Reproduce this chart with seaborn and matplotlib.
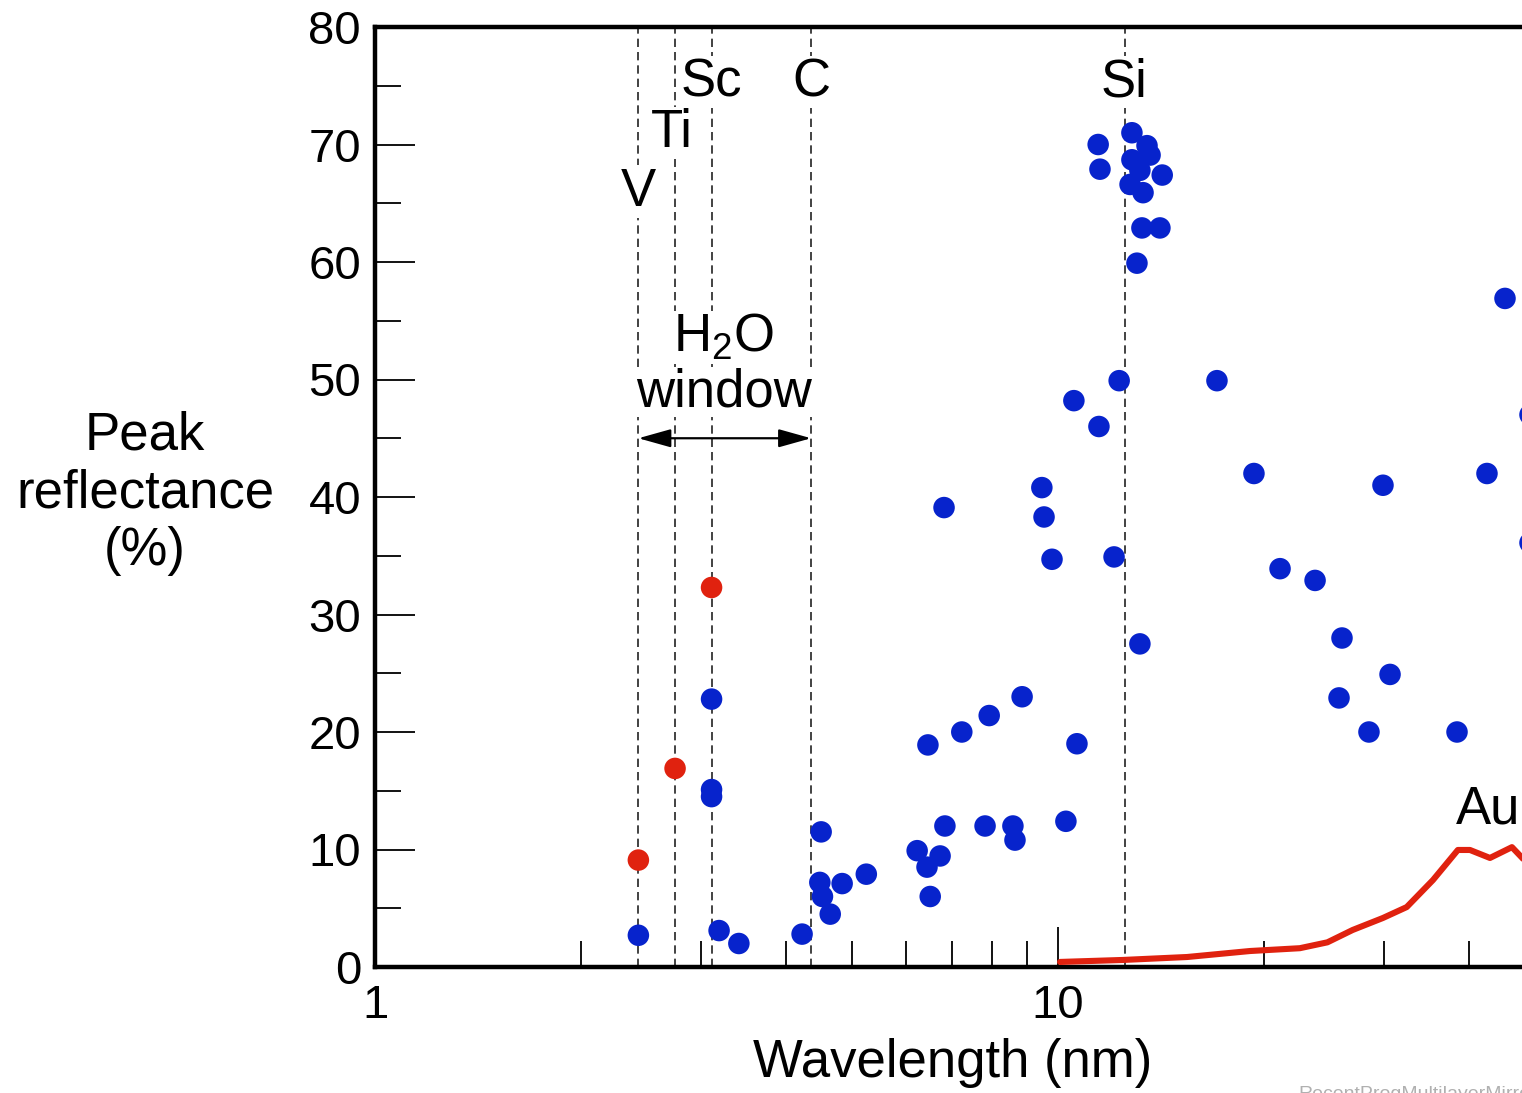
import matplotlib
matplotlib.use("Agg")
import matplotlib.pyplot as plt
from matplotlib.ticker import LogLocator, FixedLocator, MultipleLocator, NullFormatter
import numpy as np
import pandas as pd
import seaborn as sns

# Multilayer mirror peak reflectance versus wavelength
blue_wl = [2.43, 3.19, 3.41, 3.11, 3.11, 3.11, 4.22, 4.50, 4.48, 4.52, 4.64, 4.83, 5.24,
           6.22, 6.81, 9.47, 9.54, 9.80, 12.08, 13.18, 8.86, 7.93, 7.23, 6.45, 10.66,
           6.83, 7.82, 8.59, 8.65, 10.27, 6.72, 6.43, 6.50,
           10.55, 11.48, 12.29, 17.09,
           12.83, 13.50, 13.64, 12.83, 13.18, 14.21, 12.75, 13.32, 13.27, 14.10, 13.05,
           11.45, 11.52,
           19.36, 29.91, 42.47, 21.14, 23.79, 26.05, 30.63, 25.79, 28.53, 38.39, 45.13,
           49.1, 49.1]
blue_refl = [2.7, 3.1, 2.0, 22.8, 15.1, 14.5, 2.8, 11.5, 7.2, 6.0, 4.5, 7.1, 7.9,
             9.9, 39.1, 40.8, 38.3, 34.7, 34.9, 27.5, 23.0, 21.4, 20.0, 18.9, 19.0,
             12.0, 12.0, 12.0, 10.8, 12.4, 9.45, 8.5, 6.0,
             48.2, 46.0, 49.9, 49.9,
             71.0, 69.9, 69.1, 68.7, 67.8, 67.4, 66.6, 65.9, 62.9, 62.9, 59.9,
             70.0, 67.9,
             42.0, 41.0, 42.0, 33.9, 32.9, 28.0, 24.9, 22.9, 20.0, 20.0, 56.9,
             47.0, 36.1]

# Water-window results
red_wl = [2.43, 2.75, 3.11]
red_refl = [9.1, 16.9, 32.3]

# Single-surface Au reflectance curve
au_wl = [10.07, 12.45, 15.45, 19.1, 22.6, 24.8, 27.0, 29.9, 32.4, 35.4, 38.5, 40.1, 42.9, 46.2, 47.8, 49.0]
au_refl = [0.43, 0.6, 0.85, 1.36, 1.6, 2.1, 3.15, 4.17, 5.1, 7.4, 9.96, 9.96, 9.28, 10.2, 9.3, 8.6]

# Absorption edges
edge_names = ["V", "Ti", "Sc", "C", "Si"]
edge_wl = [2.43, 2.75, 3.11, 4.35, 12.55]
edge_label_y = [66.0, 71.0, 75.3, 75.3, 75.3]
edge_label_dx = [1.0, 0.99, 1.0, 1.0, 0.995]

x_ticks = [1, 10]
x_tick_labels = ["1", "10"]
y_ticks = [0, 10, 20, 30, 40, 50, 60, 70, 80]

BLUE = "#0723cc"
RED = "#e0220f"

sns.set_theme(style="white")
plt.rcParams["font.family"] = ["Liberation Sans", "DejaVu Sans"]
plt.rcParams["mathtext.fontset"] = "custom"
plt.rcParams["mathtext.rm"] = "Liberation Sans"
plt.rcParams["text.color"] = "black"
plt.rcParams["xtick.color"] = "black"
plt.rcParams["ytick.color"] = "black"
plt.rcParams["xtick.labelcolor"] = "black"
plt.rcParams["ytick.labelcolor"] = "black"

W, H = 1522, 1093
fig = plt.figure(figsize=(W / 100, H / 100), dpi=100)
x0, x1 = 375, 375 + 2 * 683
y_top, y_bot = 27, 967
ax = fig.add_axes([x0 / W, (H - y_bot) / H, (x1 - x0) / W, (y_bot - y_top) / H])

ax.set_xscale("log")
ax.set_xlim(1, 100)
ax.set_ylim(0, 80)

# edge lines
for wl in edge_wl:
    ax.axvline(wl, color="#222222", lw=1.2, ls=(0, (5, 3)), zorder=1)

# Au curve
au_df = pd.DataFrame({"wl": au_wl, "r": au_refl})
sns.lineplot(data=au_df, x="wl", y="r", sort=False, estimator=None, color=RED,
             lw=4.4, ax=ax, zorder=3)

# points
pts = pd.DataFrame({
    "wl": blue_wl + red_wl,
    "r": blue_refl + red_refl,
    "grp": ["ml"] * len(blue_wl) + ["ww"] * len(red_wl),
})
sns.scatterplot(data=pts, x="wl", y="r", hue="grp", palette={"ml": BLUE, "ww": RED},
                s=240, linewidth=0, legend=False, ax=ax, zorder=4)

# edge labels
fs = 38
for name, wl, ly, dx in zip(edge_names, edge_wl, edge_label_y, edge_label_dx):
    ax.text(wl * dx, ly, name, ha="center", va="center", fontsize=fs, zorder=2,
            bbox=dict(boxstyle="square,pad=0.02", fc="white", ec="none"))

ax.text(3.24, 53.6, r"H$_2$O", ha="center", va="center", fontsize=fs, zorder=2,
        bbox=dict(boxstyle="square,pad=0.02", fc="white", ec="none"))
ax.text(3.24, 48.9, "window", ha="center", va="center", fontsize=fs, zorder=2,
        bbox=dict(boxstyle="square,pad=0.0", fc="white", ec="none"))
ax.annotate("", xy=(edge_wl[0], 45.0), xytext=(edge_wl[3], 45.0),
            arrowprops=dict(arrowstyle="<|-|>,head_length=1.0,head_width=0.28",
                            color="black", lw=1.6, shrinkA=0, shrinkB=0,
                            mutation_scale=20), zorder=3)
ax.text(42.6, 13.4, "Au", ha="center", va="center", fontsize=fs, zorder=2)

# axes styling
for side in ["left", "top", "bottom"]:
    ax.spines[side].set_visible(True)
    ax.spines[side].set_linewidth(3.2)
    ax.spines[side].set_color("black")
ax.spines["right"].set_visible(False)

ax.xaxis.set_major_locator(FixedLocator(x_ticks))
ax.set_xticklabels(x_tick_labels)
ax.xaxis.set_minor_locator(LogLocator(base=10, subs=np.arange(2, 10), numticks=20))
ax.xaxis.set_minor_formatter(NullFormatter())
ax.yaxis.set_major_locator(FixedLocator(y_ticks))
ax.yaxis.set_minor_locator(MultipleLocator(5))

ax.tick_params(axis="both", which="both", direction="in", color="black",
               bottom=True, left=True, top=False, right=False)
ax.tick_params(axis="both", which="major", length=29, width=1.3, labelsize=34, pad=10)
ax.tick_params(axis="both", which="minor", length=19, width=1.3)
ax.tick_params(axis="x", which="major", pad=12)
ax.set_xlabel("")
ax.set_ylabel("")

fig.text(953 / W, 1 - 1063 / H, "Wavelength (nm)", ha="center", va="center", fontsize=38)
fig.text(145 / W, 1 - 493 / H, "Peak\nreflectance\n(%)", ha="center", va="center",
         fontsize=38, multialignment="center", linespacing=1.2)
fig.text(1298 / W, 1 - 1086 / H, "RecentProgMultilayerMirrors", ha="left", va="top",
         fontsize=14, color="#b0b0b0")

fig.savefig("out.png", dpi=100)
